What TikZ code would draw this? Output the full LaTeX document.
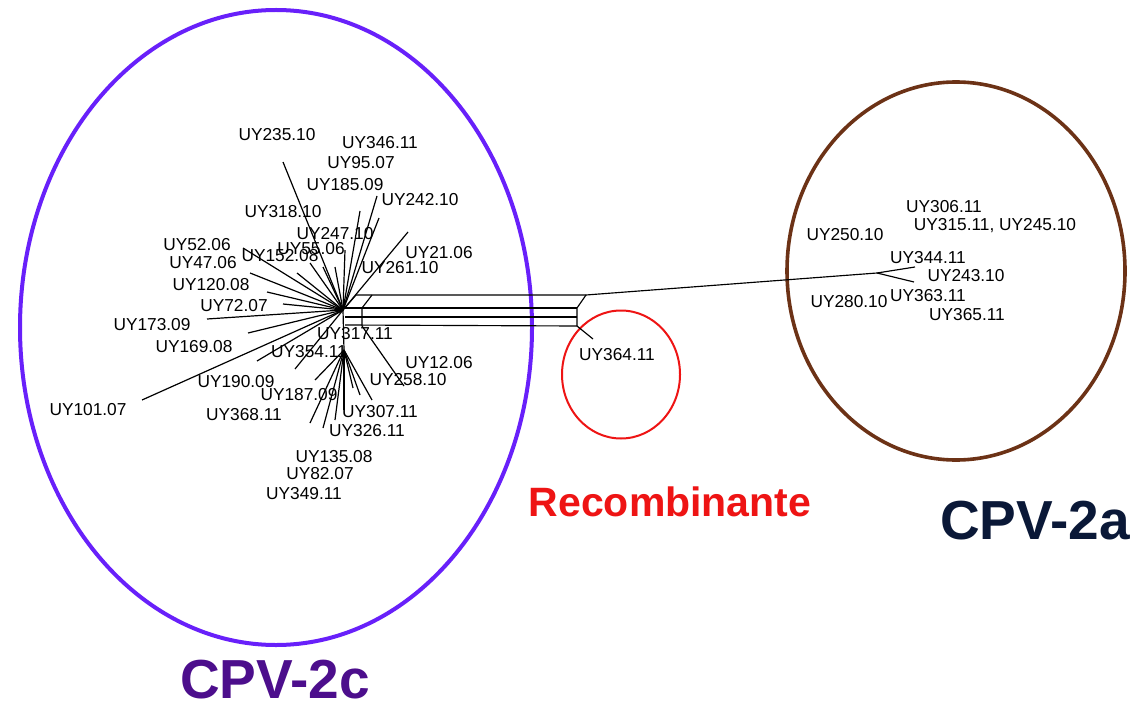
\documentclass[tikz,border=0pt]{standalone}
\usepackage{fontspec}
\setmainfont{Liberation Sans}
\definecolor{purp}{RGB}{104,32,250}
\definecolor{purptext}{RGB}{76,14,140}
\definecolor{brownc}{RGB}{108,50,22}
\definecolor{redc}{RGB}{238,20,20}
\definecolor{navy}{RGB}{10,24,55}
\begin{document}
\begin{tikzpicture}[x=1pt,y=-1pt,
  lab/.style={font=\fontsize{17.3}{18}\selectfont, inner sep=0pt},
  big/.style={font=\fontsize{55}{60}\selectfont\bfseries, inner sep=0pt},
  br/.style={line width=1.2pt, black},
  net/.style={line width=1.15pt, black}]
\useasboundingbox (0,0) rectangle (1147,711);
\fill[white] (0,0) rectangle (1147,711);

% group ellipses
\draw[purp, line width=4pt] (276,327.5) ellipse [x radius=256pt, y radius=317.5pt];
\draw[brownc, line width=3.6pt] (956,271) ellipse [x radius=169pt, y radius=189pt];
\draw[redc, line width=2pt] (621,374.5) ellipse [x radius=59pt, y radius=64pt];

% hubs
\coordinate (hub) at (343,310);
\coordinate (low) at (344,350);
\coordinate (hubA) at (877,273);

% star branches from the main hub
\foreach \px/\py [count=\i] in {283/162,360/211,377/196,379/218,408/232,
  345/250,335/267,323/267,310/263,297/273,243/248,250/273,
  267/292,283/304,207/319,248/333,257/361,295/369,142/400}
{ \coordinate (u\i) at (\px,\py); \draw[br] (hub) -- (u\i); }

% lower star
\draw[br] (hub) -- (low);
\foreach \px/\py [count=\i] in {315/380,310/423,323/428,335/420,344/410,
  353/388,360/395,372/400}
{ \coordinate (l\i) at (\px,\py); \draw[br] (low) -- (l\i); }

% split network box
\coordinate (t1) at (356,295);
\coordinate (t2) at (586,295);
\coordinate (d1) at (372,295);
\coordinate (v1a) at (362,308);
\coordinate (v1b) at (362,326);
\coordinate (v2a) at (577,308);
\coordinate (v2b) at (577,326);
\coordinate (h1a) at (345,308);
\coordinate (h2a) at (345,317);
\coordinate (h2b) at (577,317);
\coordinate (h3a) at (345,325);
\draw[net] (hub) -- (t1) -- (t2);
\draw[net] (d1) -- (v1a) -- (v1b);
\draw[net] (t2) -- (v2a) -- (v2b);
\draw[net] (h1a) -- (v2a);
\draw[net] (h2a) -- (h2b);
\draw[net] (h3a) -- (v2b);
\draw[net] (t2) -- (hubA);

% CPV-2a tips
\coordinate (a1) at (915,267);
\coordinate (a2) at (914,282);
\draw[net] (hubA) -- (a1);
\draw[net] (hubA) -- (a2);

% recombinant tip and UY12.06 tip
\coordinate (r1) at (593,339);
\draw[net] (v2b) -- (r1);
\coordinate (e12) at (404,386);
\draw[br] (v1b) -- (e12);

% labels CPV-2c cluster
\node[lab] (n235) at (277,135) {UY235.10};
\node[lab] (n346) at (380,143) {UY346.11};
\node[lab] (n95) at (361,163) {UY95.07};
\node[lab] (n185) at (345,185) {UY185.09};
\node[lab] (n242) at (420,200) {UY242.10};
\node[lab] (n318) at (283,212) {UY318.10};
\node[lab] (n247) at (335,234) {UY247.10};
\node[lab] (n52) at (197,245) {UY52.06};
\node[lab] (n55) at (311,249) {UY55.06};
\node[lab] (n152) at (280,256) {UY152.08};
\node[lab] (n21) at (439,253) {UY21.06};
\node[lab] (n47) at (203,263) {UY47.06};
\node[lab] (n261) at (400,268) {UY261.10};
\node[lab] (n120) at (211,285) {UY120.08};
\node[lab] (n72) at (234,306) {UY72.07};
\node[lab] (n173) at (152,325) {UY173.09};
\node[lab] (n169) at (194,347) {UY169.08};
\node[lab] (n317) at (355,334) {UY317.11};
\node[lab] (n354) at (309,352) {UY354.11};
\node[lab] (n12) at (439,363) {UY12.06};
\node[lab] (n190) at (236,382) {UY190.09};
\node[lab] (n258) at (408,380) {UY258.10};
\node[lab] (n187) at (299,395) {UY187.09};
\node[lab] (n101) at (88,410) {UY101.07};
\node[lab] (n368) at (244,415) {UY368.11};
\node[lab] (n307) at (380,412) {UY307.11};
\node[lab] (n326) at (367,431) {UY326.11};
\node[lab] (n135) at (334,457) {UY135.08};
\node[lab] (n82) at (320,474) {UY82.07};
\node[lab] (n349) at (304,494) {UY349.11};

% labels CPV-2a cluster
\node[lab] (n306) at (944,207) {UY306.11};
\node[lab] (n315) at (995,226) {UY315.11, UY245.10};
\node[lab] (n250) at (845,235) {UY250.10};
\node[lab] (n344) at (928,258) {UY344.11};
\node[lab] (n243) at (966,276) {UY243.10};
\node[lab] (n363) at (928,296) {UY363.11};
\node[lab] (n280) at (849,302) {UY280.10};
\node[lab] (n365) at (967,315) {UY365.11};

% recombinant
\node[lab] (n364) at (617,355) {UY364.11};

% group titles
\node[big, text=purptext] (g2c) at (275,680) {CPV-2c};
\node[font=\fontsize{41}{46}\selectfont\bfseries, inner sep=0pt, text=redc] (grec) at (670,502) {Recombinante};
\node[big, text=navy] (g2a) at (1035,521) {CPV-2a};
\end{tikzpicture}
\end{document}
